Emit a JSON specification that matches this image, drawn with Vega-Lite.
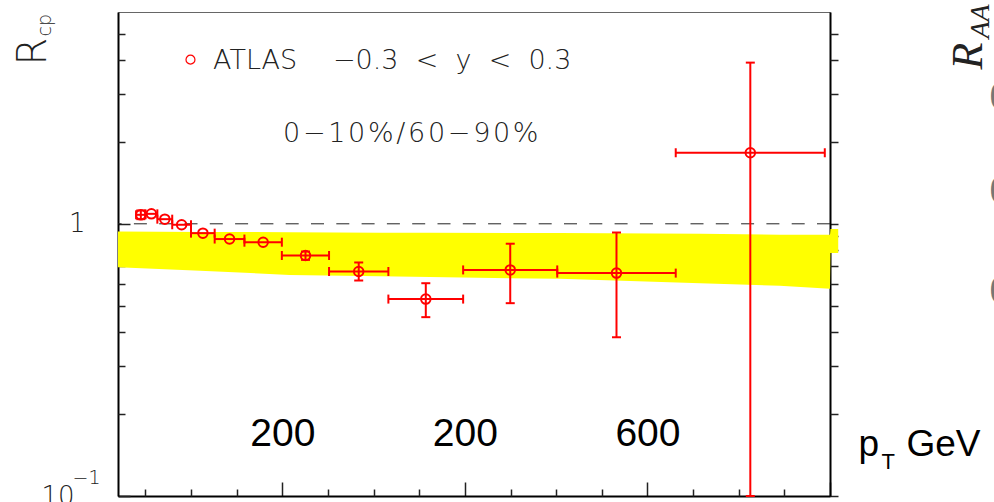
{
  "$schema": "https://vega.github.io/schema/vega-lite/v6.json",
  "width": 712,
  "height": 484,
  "autosize": {"type": "none"},
  "padding": {"left": 118, "top": 12, "right": 164, "bottom": 6},
  "background": "white",
  "config": {
    "view": {"stroke": "#666", "strokeWidth": 1},
    "axis": {"grid": false, "labelOverlap": false, "labelFlush": false, "tickColor": "#222", "tickWidth": 1.5, "domainColor": "#000", "domainWidth": 2}
  },
  "datasets": {
    "jets": [
      {"pt": 45.0, "ptlo": 39.8, "pthi": 50.1, "r": 1.079, "rlo": 1.040, "rhi": 1.120},
      {"pt": 56.6, "ptlo": 50.1, "pthi": 63.1, "r": 1.088, "rlo": null, "rhi": null},
      {"pt": 71.3, "ptlo": 63.1, "pthi": 79.4, "r": 1.040, "rlo": null, "rhi": null},
      {"pt": 89.7, "ptlo": 79.4, "pthi": 100.0, "r": 0.992, "rlo": null, "rhi": null},
      {"pt": 113.0, "ptlo": 100.0, "pthi": 125.9, "r": 0.924, "rlo": null, "rhi": null},
      {"pt": 142.2, "ptlo": 125.9, "pthi": 158.5, "r": 0.879, "rlo": null, "rhi": null},
      {"pt": 179.0, "ptlo": 158.5, "pthi": 199.5, "r": 0.856, "rlo": null, "rhi": null},
      {"pt": 225.4, "ptlo": 199.5, "pthi": 251.2, "r": 0.765, "rlo": 0.737, "rhi": 0.791},
      {"pt": 283.7, "ptlo": 251.2, "pthi": 316.2, "r": 0.668, "rlo": 0.619, "rhi": 0.721},
      {"pt": 357.2, "ptlo": 316.2, "pthi": 398.1, "r": 0.529, "rlo": 0.454, "rhi": 0.605},
      {"pt": 449.7, "ptlo": 398.1, "pthi": 501.2, "r": 0.677, "rlo": 0.511, "rhi": 0.845},
      {"pt": 566.1, "ptlo": 501.2, "pthi": 631.0, "r": 0.659, "rlo": 0.383, "rhi": 0.929},
      {"pt": 712.7, "ptlo": 631.0, "pthi": 794.3, "r": 1.824, "rlo": 0.1, "rhi": 3.91}
    ],
    "band": [
      {"pt": 20, "lo": 0.693, "hi": 0.937},
      {"pt": 110, "lo": 0.672, "hi": 0.934},
      {"pt": 208, "lo": 0.649, "hi": 0.931},
      {"pt": 307, "lo": 0.642, "hi": 0.927},
      {"pt": 362, "lo": 0.637, "hi": 0.927},
      {"pt": 504, "lo": 0.628, "hi": 0.925},
      {"pt": 658, "lo": 0.605, "hi": 0.919},
      {"pt": 745, "lo": 0.592, "hi": 0.911},
      {"pt": 800, "lo": 0.577, "hi": 0.911},
      {"pt": 800.5, "lo": 0.782, "hi": 0.958},
      {"pt": 809, "lo": 0.782, "hi": 0.958}
    ]
  },
  "resolve": {"axis": {"x": "independent", "y": "independent"}},
  "layer": [
    {
      "data": {"name": "band"},
      "mark": {"type": "area", "color": "#ffff00", "opacity": 1, "clip": false},
      "encoding": {
        "x": {
          "field": "pt", "type": "quantitative",
          "scale": {"domain": [20, 800], "nice": false, "zero": false},
          "axis": {
            "orient": "bottom", "values": [200, 400, 600, 800], "labels": false,
            "tickSize": -14, "domain": true,
            "title": "p", "titleFont": "Liberation Sans", "titleFontSize": 37, "titleFontWeight": "normal", "titleColor": "#000",
            "titleAngle": 0, "titleAlign": "left", "titleBaseline": "alphabetic", "titleX": 740, "titleY": -41
          }
        },
        "y": {
          "field": "hi", "type": "quantitative",
          "scale": {"type": "log", "domain": [0.1, 6], "nice": false},
          "axis": {
            "orient": "left", "values": [0.1, 1], "labels": false,
            "tickSize": -12, "domain": true,
            "title": "R", "titleFont": "DejaVu Sans", "titleFontWeight": 200, "titleFontSize": 40, "titleColor": "#222",
            "titleAngle": 270, "titleAlign": "left", "titleBaseline": "alphabetic", "titleX": -73, "titleY": 53
          }
        },
        "y2": {"field": "lo"}
      }
    },
    {
      "data": {"values": [{}]},
      "mark": {"type": "rule", "color": "#222", "strokeWidth": 1, "strokeDash": [13, 12.3]},
      "encoding": {
        "y": {
          "datum": 1, "type": "quantitative",
          "axis": {
            "orient": "left", "values": [0.2, 0.3, 0.4, 0.5, 0.6, 0.7, 0.8, 0.9, 2, 3, 4, 5], "labels": false,
            "tickSize": -7, "domain": false,
            "title": "cp", "titleFont": "DejaVu Sans", "titleFontWeight": 200, "titleFontSize": 19, "titleColor": "#222",
            "titleAngle": 270, "titleAlign": "left", "titleBaseline": "alphabetic", "titleX": -68, "titleY": 24
          }
        }
      }
    },
    {
      "data": {"name": "jets"},
      "mark": {"type": "rule", "color": "#ff0000", "strokeWidth": 2},
      "encoding": {
        "x": {
          "field": "ptlo", "type": "quantitative",
          "axis": {
            "orient": "bottom", "values": [200, 400, 600], "ticks": false, "domain": false,
            "labelExpr": "datum.value == 600 ? '600' : '200'",
            "labelFont": "Liberation Sans", "labelFontSize": 39, "labelColor": "#000",
            "labelAlign": "center", "labelBaseline": "alphabetic", "labelPadding": -51,
            "title": "GeV", "titleFont": "Liberation Sans", "titleFontSize": 37, "titleFontWeight": "normal", "titleColor": "#000",
            "titleAngle": 0, "titleAlign": "left", "titleBaseline": "alphabetic", "titleX": 788, "titleY": -41
          }
        },
        "x2": {"field": "pthi"},
        "y": {
          "field": "r", "type": "quantitative",
          "axis": {
            "orient": "right", "values": [0.1, 1], "labels": false,
            "tickSize": 8, "domain": true,
            "title": "R", "titleFont": "Liberation Serif", "titleFontStyle": "italic", "titleFontWeight": "normal", "titleFontSize": 44, "titleColor": "#222",
            "titleAngle": 270, "titleAlign": "left", "titleBaseline": "alphabetic", "titleX": 151, "titleY": 57
          }
        }
      }
    },
    {
      "data": {"name": "jets"},
      "mark": {"type": "rule", "color": "#ff0000", "strokeWidth": 2},
      "encoding": {
        "x": {
          "field": "pt", "type": "quantitative",
          "axis": {
            "orient": "bottom", "values": [50, 100, 150, 250, 300, 350, 450, 500, 550, 650, 700, 750], "labels": false,
            "tickSize": -7, "domain": false,
            "title": "T", "titleFont": "Liberation Sans", "titleFontSize": 22, "titleFontWeight": "normal", "titleColor": "#000",
            "titleAngle": 0, "titleAlign": "left", "titleBaseline": "alphabetic", "titleX": 763, "titleY": -28
          }
        },
        "y": {
          "field": "rlo", "type": "quantitative",
          "axis": {
            "orient": "right", "values": [0.2, 0.3, 0.4, 0.5, 0.6, 0.7, 0.8, 0.9, 2, 3, 4, 5], "labels": false,
            "tickSize": 8, "domain": false,
            "title": "AA", "titleFont": "Liberation Serif", "titleFontStyle": "italic", "titleFontWeight": "normal", "titleFontSize": 28, "titleColor": "#222",
            "titleAngle": 270, "titleAlign": "left", "titleBaseline": "alphabetic", "titleX": 158, "titleY": 26
          }
        },
        "y2": {"field": "rhi"}
      }
    },
    {
      "data": {"name": "jets"},
      "mark": {"type": "tick", "orient": "vertical", "color": "#ff0000", "size": 9, "thickness": 2, "opacity": 1},
      "encoding": {
        "x": {"field": "ptlo", "type": "quantitative", "axis": null},
        "y": {
          "field": "r", "type": "quantitative",
          "axis": {
            "orient": "left", "values": [1], "ticks": false, "domain": false,
            "labelExpr": "'1'", "labelFont": "DejaVu Sans", "labelFontWeight": 200, "labelFontSize": 26, "labelColor": "#222",
            "labelAlign": "right", "labelBaseline": "middle", "labelPadding": 33, "title": null
          }
        }
      }
    },
    {
      "data": {"name": "jets"},
      "mark": {"type": "tick", "orient": "vertical", "color": "#ff0000", "size": 9, "thickness": 2, "opacity": 1},
      "encoding": {
        "x": {"field": "pthi", "type": "quantitative", "axis": null},
        "y": {
          "field": "r", "type": "quantitative",
          "axis": {
            "orient": "left", "values": [0.1], "ticks": false, "domain": false,
            "labelExpr": "'10'", "labelFont": "DejaVu Sans", "labelFontWeight": 200, "labelFontSize": 26, "labelColor": "#222",
            "labelAlign": "right", "labelBaseline": "middle", "labelPadding": 44, "title": null
          }
        }
      }
    },
    {
      "data": {"name": "jets"},
      "mark": {"type": "tick", "orient": "horizontal", "color": "#ff0000", "size": 9, "thickness": 2, "opacity": 1},
      "encoding": {
        "x": {"field": "pt", "type": "quantitative", "axis": null},
        "y": {
          "field": "rlo", "type": "quantitative",
          "axis": {
            "orient": "left", "values": [0.1], "ticks": false, "domain": false,
            "labelExpr": "'−1'", "labelFont": "DejaVu Sans", "labelFontWeight": 200, "labelFontSize": 19, "labelColor": "#222",
            "labelAlign": "right", "labelBaseline": "alphabetic", "labelPadding": 18, "labelOffset": -13, "title": null
          }
        }
      }
    },
    {
      "data": {"name": "jets"},
      "mark": {"type": "tick", "orient": "horizontal", "color": "#ff0000", "size": 9, "thickness": 2, "opacity": 1},
      "encoding": {
        "x": {"field": "pt", "type": "quantitative", "axis": null},
        "y": {
          "field": "rhi", "type": "quantitative",
          "axis": {
            "orient": "right", "values": [0.57, 1.33, 2.93], "ticks": false, "domain": false,
            "labelExpr": "'0'", "labelFont": "Liberation Serif", "labelFontSize": 40, "labelColor": "#777",
            "labelAlign": "left", "labelBaseline": "middle", "labelPadding": 159, "title": null
          }
        }
      }
    },
    {
      "data": {"name": "jets"},
      "mark": {"type": "point", "shape": "circle", "filled": false, "size": 90, "stroke": "#ff0000", "strokeWidth": 2, "opacity": 1},
      "encoding": {
        "x": {"field": "pt", "type": "quantitative", "axis": null},
        "y": {"field": "r", "type": "quantitative", "axis": null}
      }
    },
    {
      "data": {"values": [{}]},
      "mark": {"type": "point", "shape": "circle", "filled": false, "size": 80, "stroke": "#ff0000", "strokeWidth": 1.2, "opacity": 1},
      "encoding": {
        "x": {"datum": 99.4, "type": "quantitative", "axis": null},
        "y": {"datum": 4.01, "type": "quantitative", "axis": null}
      }
    },
    {
      "data": {"values": [{}]},
      "mark": {"type": "text", "font": "DejaVu Sans", "fontWeight": 200, "fontSize": 27, "color": "#222", "align": "left", "baseline": "alphabetic"},
      "encoding": {
        "x": {"datum": 124.1, "type": "quantitative", "axis": null},
        "y": {"datum": 3.71, "type": "quantitative", "axis": null},
        "text": {"value": "ATLAS"}
      }
    },
    {
      "data": {"values": [{}]},
      "mark": {"type": "text", "font": "DejaVu Sans", "fontWeight": 200, "fontSize": 27, "color": "#222", "align": "left", "baseline": "alphabetic"},
      "encoding": {
        "x": {"datum": 255.5, "type": "quantitative", "axis": null},
        "y": {"datum": 3.71, "type": "quantitative", "axis": null},
        "text": {"value": "−0.3\u00a0 <\u00a0 y\u00a0 <\u00a0 0.3"}
      }
    },
    {
      "data": {"values": [{}]},
      "mark": {"type": "text", "font": "DejaVu Sans", "fontWeight": 200, "fontSize": 27, "color": "#222", "align": "left", "baseline": "alphabetic"},
      "encoding": {
        "x": {"datum": 200.8, "type": "quantitative", "axis": null},
        "y": {"datum": 2.0, "type": "quantitative", "axis": null},
        "text": {"value": "0\u200a−\u200a1\u200a0\u200a%\u200a/\u200a6\u200a0\u200a−\u200a9\u200a0\u200a%"}
      }
    }
  ]
}
